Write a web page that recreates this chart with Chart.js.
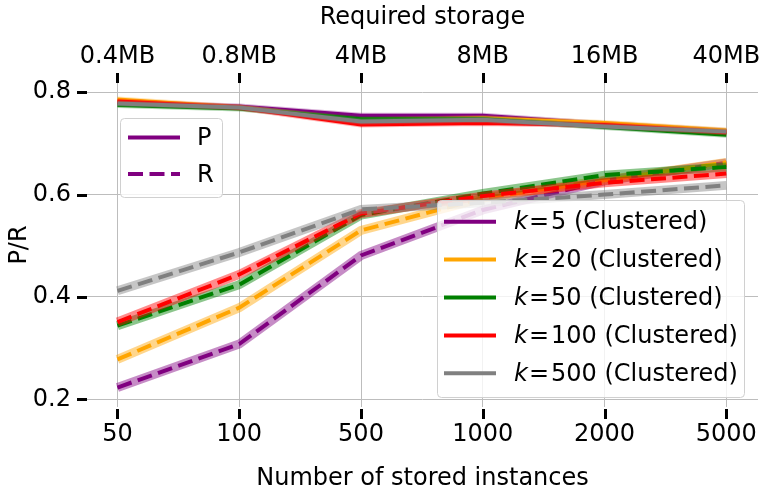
<!DOCTYPE html>
<html>
<head>
<meta charset="utf-8">
<script src="https://cdn.jsdelivr.net/npm/chart.js@4.4.1/dist/chart.umd.min.js"></script>
<style>
  body { margin: 0; background: #fff; }
  canvas { display: block; }
</style>
</head>
<body>
<canvas id="myChart" width="767" height="498"></canvas>
<script>
const xLabels = ['50', '100', '500', '1000', '2000', '5000'];
const storageLabels = ['0.4MB', '0.8MB', '4MB', '8MB', '16MB', '40MB'];
const yTicks = [0.2, 0.4, 0.6, 0.8];
const kValues = ['5', '20', '50', '100', '500'];
const colors = ['#800080', '#ffa500', '#008000', '#ff0000', '#808080'];

// precision (solid)
const pK5 = [0.780, 0.772, 0.754, 0.754, 0.738, 0.724];
const pK20 = [0.786, 0.770, 0.745, 0.749, 0.740, 0.725];
const pK50 = [0.775, 0.768, 0.747, 0.747, 0.732, 0.717];
const pK100 = [0.782, 0.770, 0.737, 0.740, 0.736, 0.722];
const pK500 = [0.778, 0.770, 0.743, 0.746, 0.733, 0.723];

// recall (dashed)
const rK5 = [0.223, 0.308, 0.481, 0.570, 0.627, 0.662];
const rK20 = [0.278, 0.379, 0.530, 0.593, 0.628, 0.663];
const rK50 = [0.344, 0.424, 0.560, 0.602, 0.638, 0.654];
const rK100 = [0.351, 0.444, 0.563, 0.597, 0.623, 0.641];
const rK500 = [0.412, 0.487, 0.571, 0.584, 0.600, 0.618];

const pSeries = [pK5, pK20, pK50, pK100, pK500];
const rSeries = [rK5, rK20, rK50, rK100, rK500];

const FONT = 'DejaVu Sans';
const FSIZE = 24;
const DASH = [15, 6.5];

function alpha(hex, a) {
    const n = parseInt(hex.slice(1), 16);
    return 'rgba(' + (n >> 16) + ',' + ((n >> 8) & 255) + ',' + (n & 255) + ',' + a + ')';
}

function pts(arr) {
    return arr.map((v, i) => ({x: i, y: v}));
}

// band underlay then line, k by k, later ones drawn on top
const datasets = [];
let z = 0;
function addSeries(arr, color, dashed) {
    datasets.push({
        data: pts(arr),
        borderColor: alpha(color, dashed ? 0.45 : 0.3),
        borderWidth: dashed ? 9 : 6,
        pointRadius: 0,
        tension: 0,
        order: -(z++)
    });
    datasets.push({
        data: pts(arr),
        borderColor: color,
        borderWidth: 4,
        borderDash: dashed ? DASH : [],
        pointRadius: 0,
        tension: 0,
        order: -(z++)
    });
}
for (let i = 0; i < kValues.length; i++) {
    addSeries(pSeries[i], colors[i], false);
    addSeries(rSeries[i], colors[i], true);
}

function roundRect(ctx, x, y, w, h, r) {
    ctx.beginPath();
    ctx.moveTo(x + r, y);
    ctx.lineTo(x + w - r, y);
    ctx.quadraticCurveTo(x + w, y, x + w, y + r);
    ctx.lineTo(x + w, y + h - r);
    ctx.quadraticCurveTo(x + w, y + h, x + w - r, y + h);
    ctx.lineTo(x + r, y + h);
    ctx.quadraticCurveTo(x, y + h, x, y + h - r);
    ctx.lineTo(x, y + r);
    ctx.quadraticCurveTo(x, y, x + r, y);
    ctx.closePath();
}

function legendBox(ctx, x, y, w, h) {
    roundRect(ctx, x, y, w, h, 4);
    ctx.fillStyle = 'rgba(255,255,255,0.8)';
    ctx.fill();
    ctx.strokeStyle = '#d0d0d0';
    ctx.lineWidth = 1;
    ctx.stroke();
}

function sample(ctx, x1, x2, y, color, dash) {
    ctx.beginPath();
    ctx.setLineDash(dash);
    ctx.strokeStyle = color;
    ctx.lineWidth = 4;
    ctx.moveTo(x1, y);
    ctx.lineTo(x2, y);
    ctx.stroke();
    ctx.setLineDash([]);
}

const extras = {
    id: 'extras',
    afterDraw(chart) {
        const ctx = chart.ctx;
        const area = chart.chartArea;
        const xs = chart.scales.x;
        const ys = chart.scales.y;
        ctx.save();
        // outward tick marks
        ctx.strokeStyle = '#000';
        ctx.lineWidth = 3;
        ctx.beginPath();
        xLabels.forEach((_, i) => {
            const px = Math.round(xs.getPixelForValue(i)) + 0.5;
            ctx.moveTo(px, area.bottom + 2);
            ctx.lineTo(px, area.bottom + 12);
            ctx.moveTo(px, area.top - 10);
            ctx.lineTo(px, area.top);
        });
        yTicks.forEach(v => {
            const py = Math.round(ys.getPixelForValue(v)) + 0.5;
            ctx.moveTo(area.left - 10, py);
            ctx.lineTo(area.left, py);
        });
        ctx.stroke();

        ctx.textBaseline = 'middle';
        ctx.textAlign = 'left';

        // P / R legend
        legendBox(ctx, 120.5, 118.5, 102, 79);
        sample(ctx, 128, 180, 137.5, colors[0], []);
        sample(ctx, 128, 180, 174, colors[0], DASH);
        ctx.fillStyle = '#000';
        ctx.font = FSIZE + 'px "' + FONT + '"';
        ctx.fillText('P', 197, 139);
        ctx.fillText('R', 197, 176);

        // k legend
        legendBox(ctx, 437.5, 200.5, 307, 197);
        ctx.fillStyle = '#000';
        kValues.forEach((k, i) => {
            const y = 221.7 + i * 37.9;
            sample(ctx, 444, 496, y, colors[i], []);
            let tx = 514;
            ctx.font = 'italic ' + FSIZE + 'px "' + FONT + '"';
            ctx.fillText('k', tx, y + 1);
            tx += ctx.measureText('k').width + 1;
            ctx.font = FSIZE + 'px "' + FONT + '"';
            ctx.fillText('=', tx, y + 1);
            tx += ctx.measureText('=').width + 2;
            ctx.fillText(k + ' (Clustered)', tx, y + 1);
        });
        ctx.restore();
    }
};

const gridColor = '#bdbdbd';
const tickFont = {family: FONT, size: FSIZE};

new Chart(document.getElementById('myChart'), {
    type: 'line',
    data: {datasets: datasets},
    plugins: [extras],
    options: {
        responsive: false,
        animation: false,
        devicePixelRatio: 1,
        layout: {padding: {right: 9, left: 0, top: 0, bottom: 0}},
        plugins: {
            legend: {display: false},
            tooltip: {enabled: false}
        },
        scales: {
            x: {
                type: 'linear',
                position: 'bottom',
                min: -0.25,
                max: 5.26,
                afterBuildTicks: s => { s.ticks = xLabels.map((_, i) => ({value: i})); },
                afterFit: s => { s.height = 91; s.paddingLeft = 0; s.paddingRight = 0; },
                grid: {color: gridColor, lineWidth: 1, drawTicks: false},
                border: {display: false},
                ticks: {
                    color: '#000',
                    font: tickFont,
                    padding: 13,
                    maxRotation: 0,
                    autoSkip: false,
                    callback: v => xLabels[v]
                },
                title: {
                    display: true,
                    text: 'Number of stored instances',
                    color: '#000',
                    font: tickFont,
                    padding: {top: 0, bottom: 5}
                }
            },
            x2: {
                type: 'linear',
                position: 'top',
                min: -0.25,
                max: 5.26,
                afterBuildTicks: s => { s.ticks = storageLabels.map((_, i) => ({value: i})); },
                afterFit: s => { s.height = 83; s.paddingLeft = 0; s.paddingRight = 0; },
                grid: {display: false, drawTicks: false},
                border: {display: false},
                ticks: {
                    color: '#000',
                    font: tickFont,
                    padding: 12,
                    maxRotation: 0,
                    autoSkip: false,
                    callback: v => storageLabels[v]
                },
                title: {
                    display: true,
                    text: 'Required storage',
                    color: '#000',
                    font: tickFont,
                    padding: {top: 3, bottom: 0}
                }
            },
            y: {
                type: 'linear',
                min: 0.185,
                max: 0.818,
                afterBuildTicks: s => { s.ticks = yTicks.map(v => ({value: v})); },
                afterFit: s => { s.width = 87; },
                grid: {color: gridColor, lineWidth: 1, drawTicks: false},
                border: {display: false},
                ticks: {
                    color: '#000',
                    font: tickFont,
                    padding: 16,
                    callback: v => v.toFixed(1)
                },
                title: {
                    display: true,
                    text: 'P/R',
                    color: '#000',
                    font: tickFont,
                    padding: {top: 5, bottom: 0}
                }
            }
        }
    }
});
</script>
</body>
</html>
